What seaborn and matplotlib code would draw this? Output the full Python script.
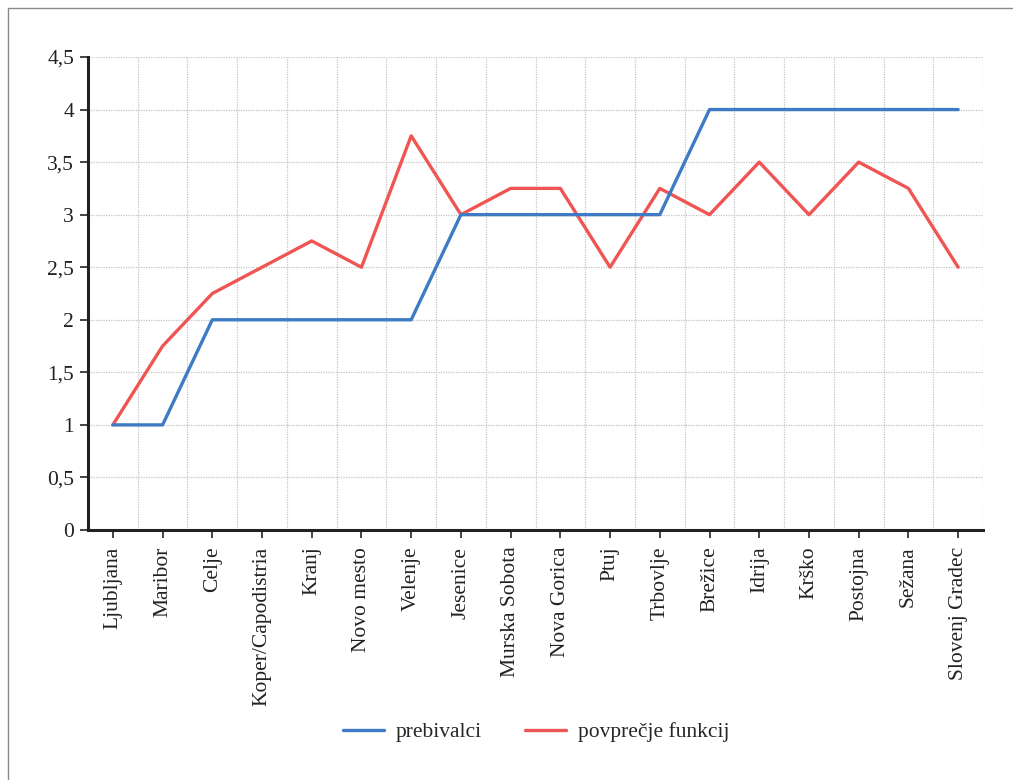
import matplotlib
matplotlib.use("Agg")
import matplotlib.pyplot as plt
import seaborn as sns
import pandas as pd
from matplotlib.patches import Rectangle
from matplotlib.ticker import FuncFormatter, MultipleLocator

categories = ["Ljubljana", "Maribor", "Celje", "Koper/Capodistria", "Kranj", "Novo mesto",
              "Velenje", "Jesenice", "Murska Sobota", "Nova Gorica", "Ptuj", "Trbovlje",
              "Brežice", "Idrija", "Krško", "Postojna", "Sežana", "Slovenj Gradec"]
prebivalci = [1, 1, 2, 2, 2, 2, 2, 3, 3, 3, 3, 3, 4, 4, 4, 4, 4, 4]
povprecje = [1, 1.75, 2.25, 2.5, 2.75, 2.5, 3.75, 3, 3.25, 3.25, 2.5, 3.25, 3, 3.5, 3, 3.5, 3.25, 2.5]
series_names = ["prebivalci", "povprečje funkcij"]
colors = ["#3f7bc4", "#ef5553"]

sns.set_theme(style="white")
plt.rcParams['font.family'] = ['Liberation Serif', 'DejaVu Serif']

df = pd.DataFrame({"x": list(range(len(categories))) * 2,
                   "value": prebivalci + povprecje,
                   "series": [series_names[0]] * len(categories) + [series_names[1]] * len(categories)})

fig = plt.figure(figsize=(10.13, 7.8), dpi=100)
fig.patches.append(Rectangle((8 / 1013, -0.1), 1.2, (772 + 78) / 780, transform=fig.transFigure,
                             fill=False, edgecolor="#8a8a8a", linewidth=1.0))
ax = fig.add_axes([88 / 1013, 1 - 530 / 780, (983 - 88) / 1013, (530 - 57) / 780])

sub_red = df[df.series == series_names[1]]
sub_blue = df[df.series == series_names[0]]
sns.lineplot(data=sub_red, x="x", y="value", color=colors[1], linewidth=2.4, ax=ax, zorder=3,
             label=series_names[1])
sns.lineplot(data=sub_blue, x="x", y="value", color=colors[0], linewidth=2.4, ax=ax, zorder=4,
             label=series_names[0])

FS = 15.5
n = len(categories)
ax.set_xlim(-0.5, n - 0.5)
ax.set_ylim(0, 4.5)
ax.set_xticks(range(n))
ax.set_xticklabels(categories, rotation=90, fontsize=FS, color="#222222")
ax.yaxis.set_major_locator(MultipleLocator(0.5))
ax.yaxis.set_major_formatter(FuncFormatter(lambda v, p: ("%g" % v).replace(".", ",")))
ax.tick_params(axis="y", labelsize=FS, colors="#222222", length=6, width=1.2, direction="out", left=True, pad=4)
ax.tick_params(axis="x", length=6, width=1.2, direction="out", bottom=True, pad=6)
ax.set_xlabel("")
ax.set_ylabel("")

# grid
for v in [i * 0.5 for i in range(1, 10)]:
    ax.axhline(v, color="#c4c4c4", linestyle=(0, (1, 1)), linewidth=0.9, zorder=1)
for b in range(n):
    ax.axvline(b + 0.5, color="#c4c4c4", linestyle=(0, (1, 1)), linewidth=0.9, zorder=1)

for s in ["top", "right"]:
    ax.spines[s].set_visible(False)
for s in ["left", "bottom"]:
    ax.spines[s].set_color("#222222")
    ax.spines[s].set_linewidth(2.2)

handles, labels = ax.get_legend_handles_labels()
order = [labels.index(series_names[0]), labels.index(series_names[1])]
ax.legend([handles[i] for i in order], [labels[i] for i in order], loc="center",
          bbox_to_anchor=(536 / 1013, 1 - 732 / 780), bbox_transform=fig.transFigure, ncol=2,
          frameon=False, fontsize=FS, handlelength=1.9, columnspacing=2.0, handletextpad=0.55)

fig.savefig("out.png", dpi=100)
